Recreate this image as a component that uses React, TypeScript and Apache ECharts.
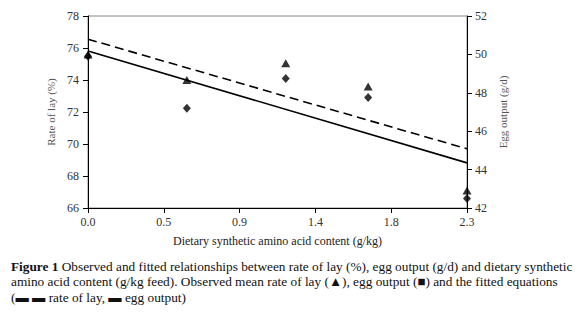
import React, { useEffect, useRef } from "react";
import * as echarts from "echarts";

const xLevels = [0, 0.6, 1.2, 1.7, 2.3];
const rateOfLay = [75.6, 74.0, 75.05, 73.6, 67.1];
const eggOutput = [49.9, 47.2, 48.75, 47.75, 42.5];
const fitX = [0, 2.3];
const fitRateOfLay = [76.55, 69.7];
const fitEggOutput = [50.18, 44.35];
const xTickCount = 5;

const serif = "'Liberation Serif', 'Times New Roman', serif";

export default function App() {
  const ref = useRef<HTMLDivElement>(null);
  useEffect(() => {
    if (!ref.current) return;
    const chart = echarts.init(ref.current, undefined, { renderer: "svg" });
    const option: any = {
      animation: false,
      backgroundColor: "#ffffff",
      textStyle: { fontFamily: serif },
      grid: {
        left: 88,
        right: 113,
        top: 16,
        bottom: 111,
        show: true,
        borderColor: "#888",
        borderWidth: 1,
      },
      xAxis: {
        type: "value",
        min: 0,
        max: 2.3,
        interval: 2.3 / xTickCount,
        name: "Dietary synthetic amino acid content (g/kg)",
        nameLocation: "middle",
        nameGap: 27,
        nameTextStyle: { fontFamily: serif, fontSize: 12, color: "#222" },
        axisLine: { lineStyle: { color: "#000", width: 1 } },
        axisTick: { show: true, length: 5, lineStyle: { color: "#000" } },
        axisLabel: {
          fontFamily: serif,
          fontSize: 12,
          color: "#333",
          margin: 8,
          formatter: (v: number) => v.toFixed(1),
        },
        splitLine: { show: false },
      },
      yAxis: [
        {
          type: "value",
          min: 66,
          max: 78,
          interval: 2,
          position: "left",
          name: "Rate of lay (%)",
          nameLocation: "middle",
          nameRotate: 90,
          nameGap: 32,
          nameTextStyle: { fontFamily: serif, fontSize: 11, color: "#555" },
          axisLine: { show: true, lineStyle: { color: "#000", width: 1 } },
          axisTick: { show: true, length: 5, lineStyle: { color: "#000" } },
          axisLabel: { fontFamily: serif, fontSize: 12, color: "#333", margin: 9 },
          splitLine: { show: false },
        },
        {
          type: "value",
          min: 42,
          max: 52,
          interval: 2,
          position: "right",
          name: "Egg output (g/d)",
          nameLocation: "middle",
          nameRotate: 90,
          nameGap: 30,
          nameTextStyle: { fontFamily: serif, fontSize: 11, color: "#555" },
          axisLine: { show: true, lineStyle: { color: "#000", width: 1 } },
          axisTick: { show: true, length: 5, lineStyle: { color: "#000" } },
          axisLabel: { fontFamily: serif, fontSize: 12, color: "#333", margin: 8 },
          splitLine: { show: false },
        },
      ],
      series: [
        {
          name: "Rate of lay fitted",
          type: "line",
          yAxisIndex: 0,
          data: fitX.map((x, i) => [x, fitRateOfLay[i]]),
          showSymbol: false,
          symbol: "none",
          lineStyle: { color: "#000", width: 1.6, type: [9, 5] },
          z: 2,
        },
        {
          name: "Egg output fitted",
          type: "line",
          yAxisIndex: 1,
          data: fitX.map((x, i) => [x, fitEggOutput[i]]),
          showSymbol: false,
          symbol: "none",
          lineStyle: { color: "#000", width: 1.6 },
          z: 2,
        },
        {
          name: "Egg output",
          type: "scatter",
          yAxisIndex: 1,
          symbol: "diamond",
          symbolSize: [8, 9],
          itemStyle: { color: "#000" },
          data: xLevels.map((x, i) => [x, eggOutput[i]]),
          z: 3,
        },
        {
          name: "Rate of lay",
          type: "scatter",
          yAxisIndex: 0,
          symbol: "triangle",
          symbolSize: [9, 8],
          itemStyle: { color: "#000" },
          data: xLevels.map((x, i) => [x, rateOfLay[i]]),
          z: 4,
        },
      ],
      graphic: [
        {
          type: "text",
          left: 11,
          top: 259,
          style: {
            text:
              "{b|Figure 1} Observed and fitted relationships between rate of lay (%), egg output (g/d) and dietary synthetic\n" +
              "amino acid content (g/kg feed). Observed mean rate of lay (▲), egg output (■) and the fitted equations\n" +
              "({b|▬ ▬} rate of lay, {b|▬} egg output)",
            fontFamily: serif,
            fontSize: 13.3,
            lineHeight: 15.3,
            fill: "#111",
            rich: {
              b: { fontFamily: serif, fontSize: 13.3, fontWeight: "bold", fill: "#111", lineHeight: 15.3 },
            },
          },
        },
      ],
    };
    chart.setOption(option);
    return () => chart.dispose();
  }, []);
  return (
    <div
      ref={ref}
      style={{ position: "fixed", left: 0, top: 0, width: 580, height: 319, background: "#fff" }}
    />
  );
}
